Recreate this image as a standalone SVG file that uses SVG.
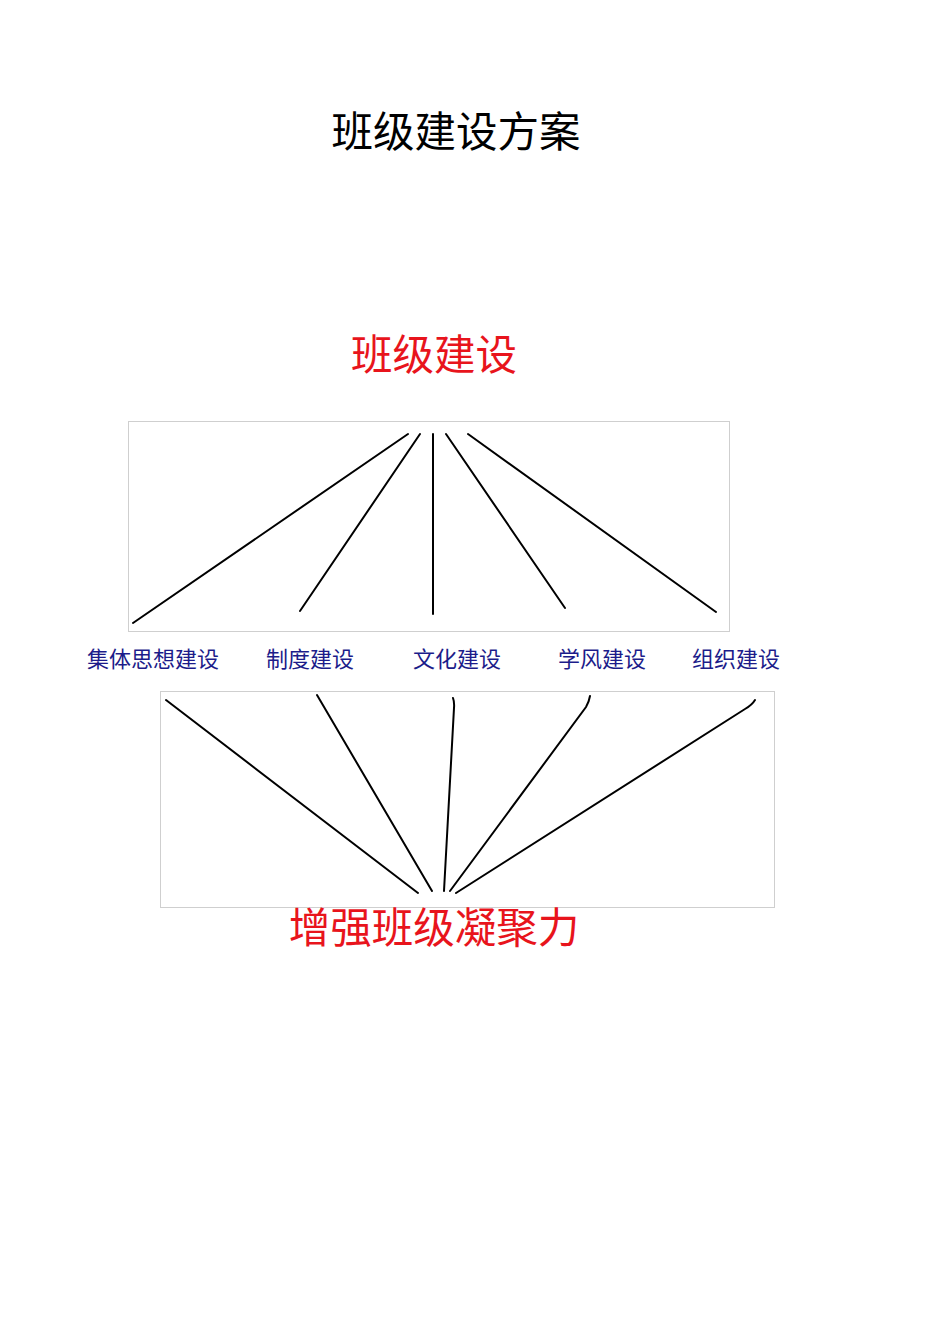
<svg xmlns="http://www.w3.org/2000/svg" width="950" height="1344" viewBox="0 0 950 1344">
<style>
.t{font-family:"Noto Sans CJK SC","Noto Sans",sans-serif;}
.title{font-size:41.5px;fill:#000;}
.red{font-size:41.5px;fill:#e8141c;}
.lab{font-size:22px;fill:#1c1c8a;}
.frame{fill:none;stroke:#cfcfcf;stroke-width:1;}
.ln{fill:none;stroke:#000;stroke-width:2;stroke-linecap:round;}
</style>
<rect width="950" height="1344" fill="#fff"/>
<g id="title"><text class="t title" x="456" y="147" text-anchor="middle">班级建设方案</text></g>
<g id="top-node"><text class="t red" x="434" y="370" text-anchor="middle">班级建设</text></g>
<g id="frame-top"><rect class="frame" x="128.5" y="421.5" width="601" height="210"/></g>
<g id="frame-bottom"><rect class="frame" x="160.5" y="691.5" width="614" height="216"/></g>
<g id="labels">
<g id="n1"><text class="t lab" x="87" y="667">集体思想建设</text></g>
<g id="n2"><text class="t lab" x="266" y="667">制度建设</text></g>
<g id="n3"><text class="t lab" x="413" y="667">文化建设</text></g>
<g id="n4"><text class="t lab" x="558" y="667">学风建设</text></g>
<g id="n5"><text class="t lab" x="692" y="667">组织建设</text></g>
</g>
<g id="bottom-node"><text class="t red" x="434" y="943" text-anchor="middle">增强班级凝聚力</text></g>
<g id="connectors">
<line class="ln" x1="133" y1="623" x2="408" y2="434"/>
<line class="ln" x1="300" y1="611" x2="420" y2="434"/>
<line class="ln" x1="433" y1="434" x2="433" y2="614"/>
<line class="ln" x1="446" y1="434" x2="565" y2="608"/>
<line class="ln" x1="468" y1="434" x2="716" y2="612"/>
<line class="ln" x1="166" y1="700" x2="418" y2="893"/>
<line class="ln" x1="317" y1="695" x2="432" y2="891"/>
<path class="ln" d="M453 698 Q454.5 702 454 708 L444 891"/>
<path class="ln" d="M590 696 Q589 702 586 707 L450 891"/>
<path class="ln" d="M755 700 Q752 705 745 709 L456 893"/>
</g>
</svg>
